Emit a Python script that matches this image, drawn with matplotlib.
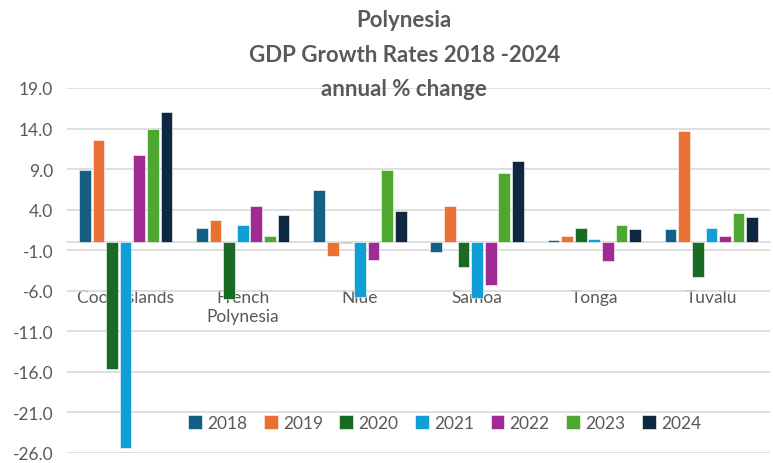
import matplotlib.pyplot as plt
import numpy as np

plt.rcParams['font.family'] = ['Lato', 'DejaVu Sans']

countries = ["Cook Islands", "French\nPolynesia", "Niue", "Samoa", "Tonga", "Tuvalu"]
years = ["2018", "2019", "2020", "2021", "2022", "2023", "2024"]

g2018 = [8.9, 1.8, 6.4, -1.2, 0.3, 1.6]
g2019 = [12.6, 2.7, -1.7, 4.4, 0.7, 13.7]
g2020 = [-15.7, -7.0, -0.1, -3.1, 1.8, -4.3]
g2021 = [-25.4, 2.1, -6.8, -6.9, 0.4, 1.8]
g2022 = [10.8, 4.5, -2.2, -5.3, -2.3, 0.7]
g2023 = [13.9, 0.7, 8.9, 8.5, 2.1, 3.6]
g2024 = [16.0, 3.4, 3.8, 10.0, 1.6, 3.1]

series = [g2018, g2019, g2020, g2021, g2022, g2023, g2024]
colors = ["#156082", "#E97132", "#196B24", "#0F9ED5", "#A02B93", "#4EA72E", "#0E2841"]

txt = "#595959"
fig = plt.figure(figsize=(7.73, 4.64), dpi=100)
ax = fig.add_axes([67 / 773, 1 - 454 / 464, 703 / 773, 365 / 464])

x = np.arange(len(countries))
slot = 0.116
for i, (vals, col, yr) in enumerate(zip(series, colors, years)):
    ax.bar(x + (i - 3) * slot, vals, width=slot * 0.86, color=col,
           edgecolor="white", linewidth=0.4, label=yr, zorder=3)

ax.set_xlim(-0.5, len(countries) - 0.5)
ax.set_ylim(-26, 19)
yt = np.arange(-26, 20, 5)
ax.set_yticks(yt)
ax.set_yticklabels([f"{v:.1f}" for v in yt], color=txt, fontsize=12.5)
ax.yaxis.grid(True, color="#d9d9d9", linewidth=1.2, zorder=0)
ax.tick_params(axis="y", length=0, pad=10)

ax.spines[["top", "right", "left"]].set_visible(False)
ax.spines["bottom"].set_position(("data", 0))
ax.spines["bottom"].set_color("#d9d9d9")
ax.spines["bottom"].set_linewidth(1.2)
ax.set_xticks(x)
ax.set_xticklabels(countries, color=txt, fontsize=12.5, linespacing=1.2)
ax.tick_params(axis="x", length=0, pad=34)

fig.text(0.523, 0.978, "Polynesia\nGDP Growth Rates 2018 -2024\nannual % change",
         ha="center", va="top", fontsize=16, fontweight="bold",
         color=txt, linespacing=1.8)

ax.legend(loc="center", bbox_to_anchor=(0.537, 0.082), ncol=7, frameon=False,
          fontsize=12.5, handlelength=0.8, handleheight=0.8, handletextpad=0.3,
          columnspacing=0.95, labelcolor=txt)

fig.savefig("out.png", dpi=100)
